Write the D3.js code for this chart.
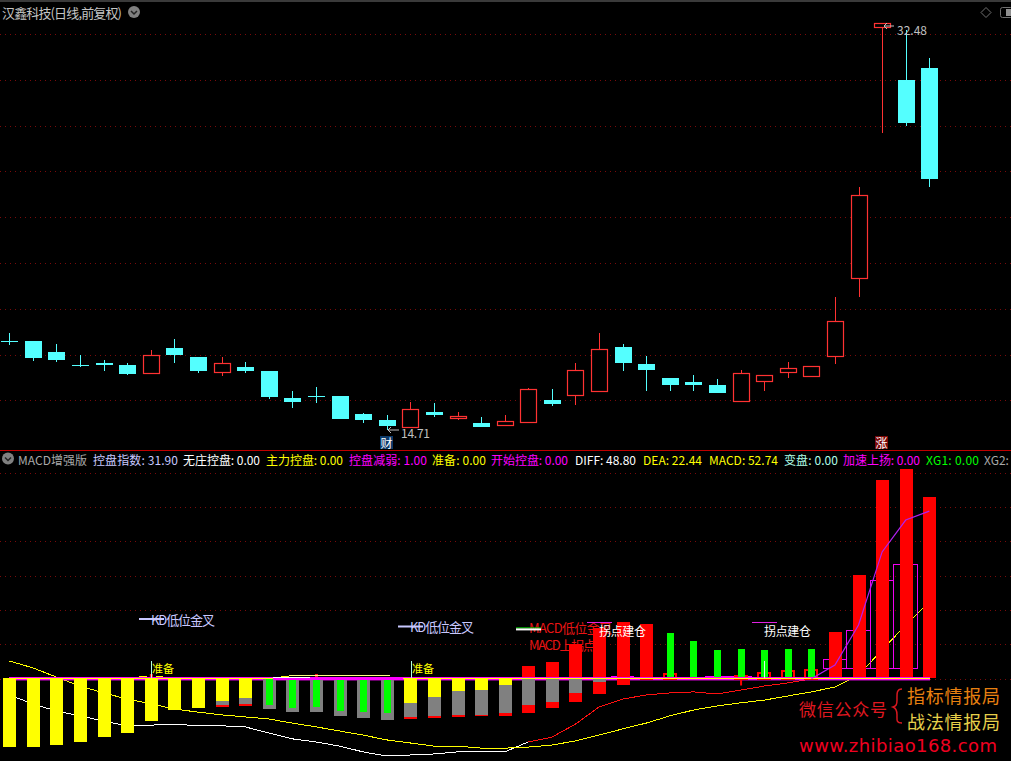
<!DOCTYPE html>
<html><head><meta charset="utf-8">
<script src="https://cdn.jsdelivr.net/npm/d3@7"></script>
<style>html,body{margin:0;padding:0;background:#000;overflow:hidden}svg{display:block}text{font-family:"Noto Sans CJK SC","DejaVu Sans",sans-serif}</style>
</head><body><div id="c"></div>
<script>
const opens =[18.60,18.60,18.12,17.55,17.64,17.55,17.20,18.29,17.90,17.24,17.46,17.29,16.11,16.19,16.19,15.41,15.15,14.84,15.50,15.23,15.02,14.93,15.06,16.02,16.24,16.41,18.33,17.59,16.98,16.81,16.68,15.98,16.85,17.24,17.07,17.94,21.35,32.31,29.99,30.52];
const closes=[18.58,17.85,17.77,17.50,17.55,17.16,17.99,17.99,17.29,17.64,17.29,16.15,15.93,16.15,15.19,15.15,14.88,15.63,15.37,15.32,14.84,15.10,16.50,15.85,17.33,18.25,17.64,17.33,16.68,16.68,16.33,17.20,17.11,17.42,17.50,19.47,24.97,32.48,28.12,25.67];
const highs =[18.95,18.60,18.47,17.99,17.77,17.64,18.20,18.68,17.90,17.90,17.68,17.29,16.41,16.59,16.19,15.45,15.37,15.93,15.89,15.50,15.28,15.37,16.54,16.50,17.64,18.95,18.47,17.94,16.98,17.11,16.94,17.33,17.11,17.68,17.50,20.52,25.32,32.48,32.18,30.96];
const lows  =[18.42,17.72,17.68,17.46,17.29,17.11,17.20,17.64,17.20,17.07,17.20,16.06,15.67,15.89,15.19,15.02,14.71,14.84,15.28,15.15,14.84,14.93,15.06,15.76,15.80,16.41,17.29,16.41,16.41,16.41,16.33,15.98,16.41,16.98,17.02,17.59,20.52,27.68,27.99,25.32];
const priceGrid=[32,30,28,26,24,22,20,18,16];
const macdGrid=[60,50,40,30,20,10,0];
const yellowLow=[-20,-20,-19.4,-18.5,-17.1,-15.9,-12.4,-9.2,-8.6,-6.6,-5.7,0,0,0,0,0,0,-7.1,-5.4,-3.6,-3.4,-1.9,0,0,0,0,0,0,0,0,0,0,0,0,0,0,0,0,0,0];
const grayLow=[0,0,0,0,0,0,0,0,0,-7.7,-7.4,-8.9,-9.8,-9.8,-10.9,-11.5,-12.1,-11.2,-10.9,-10.6,-10.6,-10.1,-7.7,-6.9,-4.2,-1.0,0,0,0,0,0,0,0,0,0,0,0,0,0,0];
const redLow=[0,0,0,0,0,0,0,0,0,-8.3,-8.0,0,0,0,0,0,0,-11.8,-11.5,-11.2,-10.9,-10.9,-10.1,-8.6,-6.9,-4.5,-1.9,-0.4,0,0,0,0,0,0,0,0,0,0,0,0];
const greenLow=[0,0,0,0,0,0,0,0,0,0,0,-7.7,-8.6,-8.3,-9.5,-9.8,-10.1,0,0,0,0,0,0,0,0,0,0,0,0,0,0,0,0,0,0,0,0,0,0,0];
const redHigh=[0,0,0,0,0,0,0,0,0,0,0,0,0,0,0,0,0,0,0,0,0,0,3.4,4.8,9.8,14.7,16.2,15.6,0,0,0,0,0,0,0,13.3,29.9,57.6,60.8,52.74];
const greenHigh=[0,0,0,0,0,0,0,0,0,0,0,0,0,0,0,0,0,0,0,0,0,0,0,0,0,0,0,0,13.0,10.9,8.3,8.6,8.3,8.6,8.6,0,0,0,0,0];
const redCap=[0,0,0,0,0,0,0,0,0,0,0,0,0,0,0,0,0,0,0,0,0,0,0,0,0,0,0,0,1.3,0,0,0.7,1.6,2.2,2.5,0,0,0,0,0];
const deaLine=[5.1,3.1,0.4,-2.2,-4.2,-6.0,-7.4,-8.9,-9.8,-10.6,-11.2,-11.8,-13.0,-14.1,-15.3,-16.5,-17.9,-18.8,-19.7,-19.7,-20.3,-20.3,-20.0,-19.4,-18.2,-16.5,-14.7,-13.0,-10.9,-9.2,-8.0,-7.1,-6.3,-5.1,-3.9,-2.5,1.0,8.3,15.6,22.44];
const diffLine=[-4.8,-7.4,-9.5,-10.9,-12.4,-13.8,-13.6,-13.3,-13.8,-13.8,-14.1,-15.9,-17.6,-18.5,-19.7,-21.4,-22.6,-22.3,-22.0,-21.4,-21.4,-21.4,-18.5,-17.1,-13.3,-8.3,-6.0,-4.8,-4.2,-3.9,-4.5,-3.4,-2.2,-1.3,-0.1,3.9,15.6,36.9,46.2,48.80];
const boxIndex=[35,36,37,38];
const boxTop=[5.4,13.9,28.7,33.1];
const boxBase=3.06;
const blobIndex=[26,30,31,32];
const blobValue=[0.8,0.7,0.8,0.5];
const legendText=["MACD增强版","控盘指数: 31.90","无庄控盘: 0.00","主力控盘: 0.00","控盘减弱: 1.00","准备: 0.00","开始控盘: 0.00","DIFF: 48.80","DEA: 22.44","MACD: 52.74","变盘: 0.00","加速上扬: 0.00","XG1: 0.00","XG2:"];
const legendColor=["#a8a8a8","#c8c8ff","#ffffff","#ffff00","#ff00ff","#ffff00","#ff00ff","#ffffff","#ffff00","#ffff00","#b0ffe8","#ff00ff","#00ff00","#a8a8a8"];
const legendLeft=[18,93,183,266,349,432,491,575,643,709,784,843,926,984];
const legendRight=[87,178,260,343,427,486,568,636,702,778,838,920,979,1011];

const W=1011,H=761;
const svg=d3.select("#c").append("svg").attr("width",W).attr("height",H).style("background","#000");
const n=opens.length, idx=d3.range(n);
const x=d3.scaleLinear().domain([0,39]).range([9.3,929.3]);
const yP=d3.scaleLinear().domain([14.71,32.48]).range([430,23.1]);
const yM=d3.scaleLinear().domain([0,52.74]).range([678.5,497.6]);
const GRID="#7a0a0a",RED="#ff3232",CYAN="#54ffff";
const px=v=>Math.round(v);

function grid(scale,vals){
  const g=svg.append("g").call(d3.axisRight(scale).tickValues(vals).tickSize(W).tickFormat(""));
  g.select(".domain").remove();
  g.selectAll("line").attr("stroke",GRID).attr("stroke-dasharray","1 4").attr("shape-rendering","crispEdges");
}
svg.append("rect").attr("x",0).attr("y",0).attr("width",W).attr("height",2).attr("fill","#3a3a3a");
grid(yP,priceGrid);
grid(yM,macdGrid);
svg.append("rect").attr("x",0).attr("y",450).attr("width",W).attr("height",1).attr("fill","#c00000");

// candles
const isUp=i=>closes[i]>=opens[i];
const cg=svg.append("g");
cg.selectAll(".wick").data(idx).join("rect").attr("class","wick")
  .attr("x",i=>px(x(i))).attr("width",1)
  .attr("y",i=>px(yP(highs[i]))).attr("height",i=>Math.max(1,px(yP(lows[i]))-px(yP(highs[i]))))
  .attr("fill",i=>isUp(i)?RED:CYAN);
cg.selectAll(".body").data(idx).join("rect").attr("class","body")
  .attr("x",i=>px(x(i))-8+(isUp(i)?.5:0)).attr("width",i=>isUp(i)?16:17)
  .attr("y",i=>px(yP(Math.max(opens[i],closes[i])))+(isUp(i)?.5:0))
  .attr("height",i=>Math.max(1,px(Math.abs(yP(opens[i])-yP(closes[i])))))
  .attr("fill",i=>isUp(i)?"#000":CYAN)
  .attr("stroke",i=>isUp(i)?RED:"none")
  .attr("stroke-width",1.2);

// price labels
function arrow(x1,x2,y){
  svg.append("path").attr("d",`M${x1} ${y}L${x2} ${y}M${x1+3} ${y-3}L${x1} ${y}L${x1+3} ${y+3}`).attr("stroke","#c0c0c0").attr("fill","none");
}
arrow(884,894,26);
arrow(388,399,430);
const txt=(s,xa,xb,yc,col,size)=>{
  const t=svg.append("text").attr("x",xa).attr("y",yc).attr("dominant-baseline","central").attr("fill",col).attr("font-size",size).text(s);
  if(xb!=null)t.attr("textLength",xb-xa).attr("lengthAdjust","spacing");
  return t;
};
txt("32.48",897,927,29,"#c0c0c0",12);
txt("14.71",401,430,432,"#c0c0c0",12);
svg.append("rect").attr("x",380).attr("y",436).attr("width",13).attr("height",13).attr("fill","#0c3a6a");
txt("财",380.5,null,442.5,"#fff",12);
svg.append("rect").attr("x",875).attr("y",436).attr("width",13).attr("height",13).attr("fill","#7a0808");
txt("涨",875.5,null,442.5,"#fff",12);

// header
txt("汉鑫科技(日线,前复权)",2,122,12,"#c4c4c4",13);
function chevron(cx,cy){
  svg.append("circle").attr("cx",cx).attr("cy",cy).attr("r",6).attr("fill","#808080");
  svg.append("path").attr("d",`M${cx-3} ${cy-1}L${cx} ${cy+2}L${cx+3} ${cy-1}`).attr("stroke","#222").attr("stroke-width",1.5).attr("fill","none");
}
chevron(134,12);
chevron(8,458.5);
svg.append("path").attr("d","M986 7.5L991 12.5L986 17.5L981 12.5Z").attr("fill","none").attr("stroke","#707070");
svg.append("rect").attr("x",1000.5).attr("y",7.5).attr("width",12).attr("height",10).attr("rx",2).attr("fill","none").attr("stroke","#707070");
svg.append("rect").attr("x",1006).attr("y",9).attr("width",5).attr("height",7).attr("fill","#909090");

// legend
legendText.forEach((s,i)=>txt(s,legendLeft[i],i<13?legendRight[i]:null,459,legendColor[i],12));

// lower panel: under-bar content
const bw=13;
const hl=(a,b,y,col,h)=>svg.append("rect").attr("x",a).attr("y",y).attr("width",b-a).attr("height",h||1).attr("fill",col);
txt("MACD低位金叉",529,612,627,"#e81414",13);
txt("MACD上拐点",529,596,644.5,"#e81414",13);
const lineMain=d3.line().x(i=>x(i)).y(i=>yM(deaLine[i]));
const lineDiff=d3.line().x(i=>x(i)).y(i=>yM(diffLine[i]));
const seg=(gen,a,b,col,w,crisp)=>svg.append("path").attr("d",gen(d3.range(a,b+1))).attr("fill","none").attr("stroke",col).attr("stroke-width",w||1).attr("shape-rendering",crisp?"crispEdges":"auto");
seg(lineDiff,0,22,"#ffffff",1,true);
seg(lineDiff,22,34,"#ff1010",1,true);
seg(lineMain,0,39,"#ffff00",1,true);
// hollow boxes
const hg=svg.append("g").attr("shape-rendering","crispEdges");
hg.append("g").selectAll("rect").data(boxIndex).join("rect")
  .attr("x",d=>x(d)-11.8).attr("width",23.6)
  .attr("y",(d,i)=>yM(boxTop[i])).attr("height",(d,i)=>yM(boxBase)-yM(boxTop[i]))
  .attr("fill","none").attr("stroke","#f000f0");
// blobs
hg.append("g").selectAll("rect").data(blobIndex).join("rect")
  .attr("x",d=>x(d)-11.8).attr("width",23.6)
  .attr("y",(d,i)=>yM(blobValue[i])).attr("height",(d,i)=>yM(0)-yM(blobValue[i])).attr("fill","#ff00ff");
// magenta rails sit behind the bars
hl(9,930,679,"#ff00ff",1.4);

// bars
function bars(arr,col,w){
  svg.append("g").attr("shape-rendering","crispEdges").selectAll("rect").data(idx.filter(i=>arr[i]!==0)).join("rect")
    .attr("x",i=>px(x(i))-(w-1)/2).attr("width",w)
    .attr("y",i=>Math.floor(yM(Math.max(arr[i],0)))).attr("height",i=>Math.abs(yM(arr[i])-yM(0))+.5)
    .attr("fill",col);
}
bars(redLow,"#ff0000",bw);
bars(grayLow,"#808080",bw);
bars(yellowLow,"#ffff00",bw);
bars(greenLow,"#00ff00",7);
bars(redHigh,"#ff0000",bw);
svg.append("g").attr("shape-rendering","crispEdges").selectAll("rect").data(idx.filter(i=>redCap[i]>0)).join("rect")
  .attr("x",i=>px(x(i))-6).attr("width",bw-1).attr("y",i=>yM(redCap[i])).attr("height",i=>yM(0)-yM(redCap[i]))
  .attr("fill","none").attr("stroke","#ff0000").attr("stroke-width",2);
bars(greenHigh,"#00ff00",7);

// accent marks
svg.append("rect").attr("x",x(31)-.5).attr("y",yM(0)).attr("width",2).attr("height",7).attr("fill","#ff0000");
[6,13].forEach(i=>svg.append("rect").attr("x",x(i)-1).attr("y",674).attr("width",3).attr("height",4).attr("fill","#ff2020"));

// baseline
hl(9,273,677,"#ff00ff",1);
hl(273,403,677,"#ff00ff",2);
hl(403,930,677,"#ff00ff",1);
hl(9,273,678,"#ffff00",1);
hl(403,930,678,"#ffff00",1);
hl(273,403,679,"#ff00ff",1);
hl(273,310,677,"#ffffff",1);
hl(289,390,675,"#ffff80",1);
hl(139,147,676,"#ffff00",1);hl(156,163,676,"#ffff00",1);hl(281,289,676,"#ffff00",1);

// annotations
hl(139,164,618,"#c8c8ff",2);
txt("KD低位金叉",151,215,619,"#c8c8ff",13);
hl(398,423,625.5,"#c8c8ff",2);
txt("KD低位金叉",410,474,626,"#c8c8ff",13);
hl(516,541,627.4,"#00e000",1);
hl(516,541,628.4,"#ffffff",2);
hl(587,612,622,"#e020e0",1);
hl(752,777,622,"#e020e0",1);
txt("拐点建仓",599,646,630,"#ffffff",12);
txt("拐点建仓",764,811,630,"#ffffff",12);
txt("准备",152,174,668,"#ffff00",11);
txt("准备",412,434,668,"#ffff00",11);
[[151,661,678,"#b0ffe8"],[411,661,678,"#b0ffe8"],[764,661,678,"#d8ffe8"]].forEach(d=>svg.append("rect").attr("x",d[0]).attr("y",d[1]).attr("width",1).attr("height",d[2]-d[1]).attr("fill",d[3]));

// rising diff line over bars
seg(lineDiff,34,39,"#b020f0",1.2,false);

// watermark
txt("微信公众号",799,887,708,"#e01820",17);
svg.append("path").attr("d","M902 689C896 689 897 695 897 700C897 705 896 706 893 707C896 708 897 710 897 715C897 720 896 723 902 723").attr("fill","none").attr("stroke","#d81820").attr("stroke-width",1.5);
txt("指标情报局",907,1000,695,"#e88010",18);
txt("战法情报局",907,1000,721,"#e6cf4a",18);
txt("www.zhibiao168.com",799,997,745,"#f00020",18).style("font-family","'DejaVu Sans'");
</script></body></html>
